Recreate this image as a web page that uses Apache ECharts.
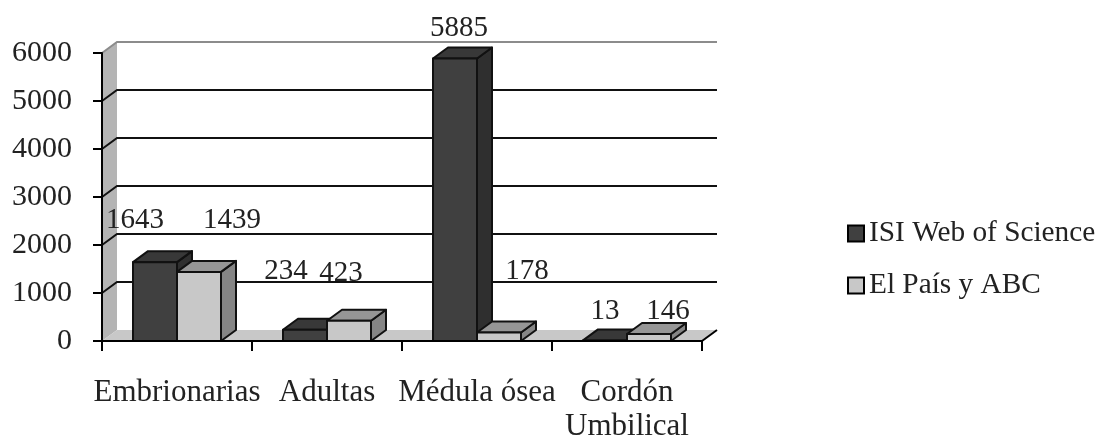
<!DOCTYPE html>
<html style="height: 100%" lang="es">
<head>
    <meta charset="UTF-8">
    <title>Células madre</title>
</head>
<body style="height: 100%; margin: 0; background: #fff">
<div id="main1" style="width: 1097px; height: 438px"></div>

<script src="https://cdn.jsdelivr.net/npm/echarts@6/dist/echarts.min.js"></script>
<script type="text/javascript">
    var categories = ['Embrionarias', 'Adultas', 'Médula ósea', 'Cordón\nUmbilical'];
    var isiValues = [1643, 234, 5885, 13];
    var paisValues = [1439, 423, 178, 146];
    var yTicks = [1000, 2000, 3000, 4000, 5000, 6000];

    // hand placed data labels in the original, offset from the bar's top centre
    var isiLabelNudge = [[-20, -42], [-19, -58], [4, -30], [0, -29]];
    var paisLabelNudge = [[33, -52], [-8, -47], [28, -61], [19, -23]];

    var fontName = '"Liberation Serif", "Times New Roman", serif';
    var depthX = 15;
    var depthY = 11;
    var barRatio = 44 / 150;

    function barSeries(name, values, nudges, side, colors) {
        return {
            name: name,
            type: 'custom',
            z: 3,
            itemStyle: { color: colors.front, borderColor: '#000', borderWidth: 2 },
            data: values.map(function (v, i) { return [i, v]; }),
            renderItem: function (params, api) {
                var i = api.value(0);
                var v = api.value(1);
                var base = api.coord([i, 0]);
                var top = api.coord([i, v]);
                var w = api.size([1, 0])[0] * barRatio;
                var x0 = side < 0 ? base[0] - w : base[0];
                var x1 = x0 + w;
                var line = { stroke: '#111', lineWidth: 2, lineJoin: 'round' };
                function poly(points, fill) {
                    return {
                        type: 'polygon',
                        shape: { points: points },
                        style: Object.assign({ fill: fill }, line)
                    };
                }
                var nudge = nudges[i];
                return {
                    type: 'group',
                    children: [
                        poly([[x1, top[1]], [x1 + depthX, top[1] - depthY], [x1 + depthX, base[1] - depthY], [x1, base[1]]], colors.side),
                        poly([[x0, top[1]], [x0 + depthX, top[1] - depthY], [x1 + depthX, top[1] - depthY], [x1, top[1]]], colors.top),
                        poly([[x0, top[1]], [x1, top[1]], [x1, base[1]], [x0, base[1]]], colors.front),
                        {
                            type: 'text',
                            z2: 50,
                            style: {
                                text: String(v),
                                x: (x0 + x1) / 2 + nudge[0],
                                y: top[1] + nudge[1],
                                align: 'center',
                                verticalAlign: 'middle',
                                fill: '#222',
                                font: '29px ' + fontName
                            }
                        }
                    ]
                };
            }
        };
    }

    var myChart1 = echarts.init(document.getElementById('main1'), null, { renderer: 'canvas' });

    var option1 = {
        animation: false,
        backgroundColor: '#fff',
        textStyle: { fontFamily: fontName },
        grid: { left: 102, top: 53, width: 600, height: 288, outerBoundsMode: 'none' },
        legend: {
            left: 842,
            top: 214,
            orient: 'vertical',
            itemWidth: 16,
            itemHeight: 16,
            itemGap: 23,
            selectedMode: false,
            icon: 'rect',
            data: ['ISI Web of Science', 'El País y ABC'],
            itemStyle: { borderColor: '#000', borderWidth: 2 },
            textStyle: { fontFamily: fontName, fontSize: 29.3, color: '#222', padding: [0, 0, 0, 0] }
        },
        xAxis: {
            type: 'category',
            data: categories,
            z: 10,
            axisLine: { lineStyle: { color: '#000', width: 2 } },
            axisTick: { show: true, alignWithLabel: false, length: 10, lineStyle: { color: '#000', width: 2 } },
            axisLabel: { interval: 0, margin: 35, color: '#222', fontFamily: fontName, fontSize: 31, lineHeight: 34, hideOverlap: false },
            splitLine: { show: false }
        },
        yAxis: {
            type: 'value',
            min: 0,
            max: 6000,
            interval: 1000,
            z: 10,
            axisLine: { show: true, lineStyle: { color: '#000', width: 2 } },
            axisTick: { show: true, length: 9, lineStyle: { color: '#000', width: 2 } },
            axisLabel: {
                margin: 30,
                color: '#222',
                fontFamily: fontName,
                fontSize: 30,
                formatter: function (value) { return String(value); }
            },
            splitLine: { show: false }
        },
        series: [
            {
                // side wall and floor
                type: 'custom',
                z: 1,
                silent: true,
                data: [[0]],
                renderItem: function (params, api) {
                    var r = params.coordSys;
                    var left = r.x;
                    var right = r.x + r.width;
                    var top = r.y;
                    var bottom = r.y + r.height;
                    return {
                        type: 'group',
                        children: [
                            {
                                type: 'polygon',
                                shape: { points: [[left, bottom], [left + depthX, bottom - depthY], [left + depthX, top - depthY], [left, top]] },
                                style: { fill: '#b4b4b4' }
                            },
                            {
                                type: 'polygon',
                                shape: { points: [[left, bottom], [left + depthX, bottom - depthY], [right + depthX, bottom - depthY], [right, bottom]] },
                                style: { fill: '#c8c8c8' }
                            },
                            {
                                type: 'line',
                                shape: { x1: right, y1: bottom, x2: right + depthX, y2: bottom - depthY },
                                style: { stroke: '#000', lineWidth: 2 }
                            }
                        ]
                    };
                }
            },
            {
                // gridlines run up the wall then along the back
                type: 'custom',
                z: 2,
                silent: true,
                data: yTicks.map(function (t) { return [t]; }),
                renderItem: function (params, api) {
                    var r = params.coordSys;
                    var t = api.value(0);
                    var y = api.coord([0, t])[1];
                    return {
                        type: 'polyline',
                        shape: { points: [[r.x, y], [r.x + depthX, y - depthY], [r.x + r.width + depthX, y - depthY]] },
                        style: { fill: 'none', stroke: t === 6000 ? '#8c8c8c' : '#111', lineWidth: 2 }
                    };
                }
            },
            barSeries('ISI Web of Science', isiValues, isiLabelNudge, -1, { front: '#404040', top: '#383838', side: '#2f2f2f' }),
            barSeries('El País y ABC', paisValues, paisLabelNudge, 1, { front: '#c8c8c8', top: '#969696', side: '#858585' })
        ]
    };

    myChart1.setOption(option1);
</script>
</body>
</html>
